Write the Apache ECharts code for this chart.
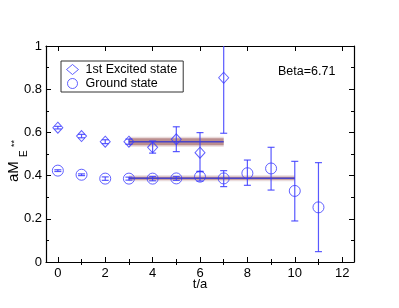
<!DOCTYPE html>
<html><head><meta charset="utf-8">
<script src="https://cdn.jsdelivr.net/npm/echarts@6/dist/echarts.min.js"></script>
<style>html,body{margin:0;padding:0;background:#fff}#c{width:399px;height:308px}</style>
</head><body><div id="c"></div>
<script>
// ---- data ----
var excitedT = [0, 1, 2, 3, 4, 5, 6, 7];
var excitedVal = [0.622, 0.583, 0.557, 0.557, 0.531, 0.568, 0.506, 0.853];
var excitedLo  = [0.616, 0.575, 0.548, 0.545, 0.504, 0.511, 0.418, 0.596];
var excitedHi  = [0.628, 0.591, 0.566, 0.569, 0.560, 0.626, 0.599, 1.030];

var groundT   = [0, 1, 2, 3, 4, 5, 6, 7, 8, 9, 10, 11];
var groundVal = [0.423, 0.404, 0.386, 0.386, 0.386, 0.387, 0.395, 0.387, 0.411, 0.433, 0.329, 0.253];
var groundLo  = [0.419, 0.400, 0.378, 0.379, 0.376, 0.378, 0.375, 0.349, 0.355, 0.333, 0.190, 0.048];
var groundHi  = [0.427, 0.408, 0.394, 0.393, 0.396, 0.396, 0.420, 0.423, 0.472, 0.531, 0.466, 0.460];

// fit bands: [tStart, tEnd, value, halfWidth]
var excitedFit = [3, 7, 0.557, 0.016];
var groundFit  = [3, 10, 0.388, 0.007];

var xMajor = [0, 2, 4, 6, 8, 10, 12];
var xMinor = [1, 3, 5, 7, 9, 11];

var seriesNames = ['1st Excited state', 'Ground state'];
var betaText = 'Beta=6.71';

// ---- chart ----
var BLUE = '#3a3aff';
var EBLUE = 'rgba(60,60,255,0.85)';
var chart = echarts.init(document.getElementById('c'), null, {renderer: 'canvas'});

function pts(t, v) { return t.map(function (x, i) { return [x, v[i]]; }); }
function errData(t, lo, hi) { return t.map(function (x, i) { return [x, lo[i], hi[i]]; }); }

function errRender(params, api) {
  var x = api.value(0);
  var p1 = api.coord([x, api.value(1)]);
  var p2 = api.coord([x, api.value(2)]);
  var cw = 3.5;
  var st = {stroke: EBLUE, lineWidth: 1.2};
  return {
    type: 'group',
    children: [
      {type: 'line', shape: {x1: p1[0], y1: p1[1], x2: p2[0], y2: p2[1]}, style: st},
      {type: 'line', shape: {x1: p1[0] - cw, y1: p1[1], x2: p1[0] + cw, y2: p1[1]}, style: st},
      {type: 'line', shape: {x1: p2[0] - cw, y1: p2[1], x2: p2[0] + cw, y2: p2[1]}, style: st}
    ]
  };
}

function bandRender(params, api) {
  var t0 = api.value(0), t1 = api.value(1), v = api.value(2), e = api.value(3);
  var a = api.coord([t0, v + e]);
  var b = api.coord([t1, v - e]);
  var c1 = api.coord([t0, v]);
  var c2 = api.coord([t1, v]);
  return {
    type: 'group',
    children: [
      {type: 'rect', shape: {x: a[0], y: a[1], width: b[0] - a[0], height: b[1] - a[1]},
        style: {fill: 'rgba(150,85,85,0.6)'}},
      {type: 'rect', shape: {x: a[0], y: a[1] - 1.5, width: b[0] - a[0], height: b[1] - a[1] + 3},
        style: {fill: 'rgba(170,110,110,0.25)'}},
      {type: 'line', shape: {x1: c1[0], y1: c1[1], x2: c2[0], y2: c2[1]},
        style: {stroke: '#4a44c8', lineWidth: 1.5}}
    ]
  };
}

var tickFont = {fontFamily: 'Liberation Sans', fontSize: 13, color: '#000'};
var markerStyle = {color: 'rgba(255,255,255,0)', borderColor: BLUE, borderWidth: 1};

chart.setOption({
  animation: false,
  backgroundColor: '#fff',
  grid: {left: 46, right: 45, top: 46, bottom: 46, containLabel: false},
  legend: {
    orient: 'vertical', left: 61, top: 61,
    data: seriesNames,
    itemWidth: 12, itemHeight: 10, itemGap: 1,
    padding: [2, 6, 2, 5],
    borderColor: '#333', borderWidth: 1,
    itemStyle: {color: 'rgba(255,255,255,0)', borderColor: BLUE, borderWidth: 1},
    textStyle: {fontFamily: 'Liberation Sans', fontSize: 12.5, color: '#000', padding: [0, 0, 0, 2]}
  },
  xAxis: [
    {
      type: 'value', min: -0.5, max: 12.5, position: 'bottom',
      name: 't/a', nameLocation: 'middle', nameGap: 16, nameMoveOverlap: false,
      nameTextStyle: {fontFamily: 'Liberation Sans', fontSize: 13, color: '#000', verticalAlign: 'top'},
      axisLine: {show: true, onZero: false, lineStyle: {color: '#000', width: 1.2}},
      axisTick: {show: true, inside: true, length: 5, customValues: xMajor, lineStyle: {color: '#000'}},
      axisLabel: Object.assign({show: true, margin: 5, customValues: xMajor}, tickFont),
      splitLine: {show: false}
    },
    {
      type: 'value', min: -0.5, max: 12.5, position: 'bottom',
      axisLine: {show: false},
      axisTick: {show: true, inside: true, length: 3, customValues: xMinor, lineStyle: {color: '#000'}},
      axisLabel: {show: false},
      splitLine: {show: false}
    },
    {
      type: 'value', min: -0.5, max: 12.5, position: 'top',
      axisLine: {show: true, onZero: false, lineStyle: {color: '#000', width: 1.2}},
      axisTick: {show: true, inside: true, length: 5, customValues: xMajor, lineStyle: {color: '#000'}},
      axisLabel: {show: false},
      splitLine: {show: false}
    },
    {
      type: 'value', min: -0.5, max: 12.5, position: 'top',
      axisLine: {show: false},
      axisTick: {show: true, inside: true, length: 3, customValues: xMinor, lineStyle: {color: '#000'}},
      axisLabel: {show: false},
      splitLine: {show: false}
    }
  ],
  yAxis: [
    {
      type: 'value', min: 0, max: 1, interval: 0.2, position: 'left',
      axisLine: {show: true, onZero: false, lineStyle: {color: '#000', width: 1.2}},
      axisTick: {show: true, inside: true, length: 5, lineStyle: {color: '#000'}},
      minorTick: {show: true, splitNumber: 2, length: 3, lineStyle: {color: '#000'}},
      axisLabel: Object.assign({show: true, margin: 4, formatter: function (v) { return v === 0 || v === 1 ? String(v) : v.toFixed(1); }}, tickFont),
      splitLine: {show: false}
    },
    {
      type: 'value', min: 0, max: 1, interval: 0.2, position: 'right',
      axisLine: {show: true, onZero: false, lineStyle: {color: '#000', width: 1.2}},
      axisTick: {show: true, inside: true, length: 5, lineStyle: {color: '#000'}},
      minorTick: {show: true, splitNumber: 2, length: 3, lineStyle: {color: '#000'}},
      axisLabel: {show: false},
      splitLine: {show: false}
    }
  ],
  graphic: [
    {type: 'text', left: 278, top: 65, style: {text: betaText, font: '12.5px "Liberation Sans"', fill: '#000'}},
    {type: 'text', x: 6, y: 182, rotation: Math.PI / 2, style: {text: 'aM', font: '15px "Liberation Sans"', fill: '#000'}},
    {type: 'text', x: 19, y: 157, rotation: Math.PI / 2, style: {text: 'E', font: '10px "Liberation Sans"', fill: '#000'}},
    {type: 'text', x: 10, y: 147, rotation: Math.PI / 2, style: {text: '**', font: '9px "Liberation Sans"', fill: '#000'}}
  ],
  series: [
    {type: 'custom', name: 'bandE', renderItem: bandRender, data: [excitedFit], clip: true, z: 1, silent: true},
    {type: 'custom', name: 'bandG', renderItem: bandRender, data: [groundFit], clip: true, z: 1, silent: true},
    {type: 'custom', name: 'errE', renderItem: errRender, data: errData(excitedT, excitedLo, excitedHi), clip: true, z: 2, silent: true},
    {type: 'custom', name: 'errG', renderItem: errRender, data: errData(groundT, groundLo, groundHi), clip: true, z: 2, silent: true},
    {type: 'scatter', name: seriesNames[0], data: pts(excitedT, excitedVal), symbol: 'diamond', symbolSize: [10, 11],
      itemStyle: markerStyle, z: 3},
    {type: 'scatter', name: seriesNames[1], data: pts(groundT, groundVal), symbol: 'circle', symbolSize: 11,
      itemStyle: markerStyle, z: 3}
  ]
});
</script>
</body></html>
